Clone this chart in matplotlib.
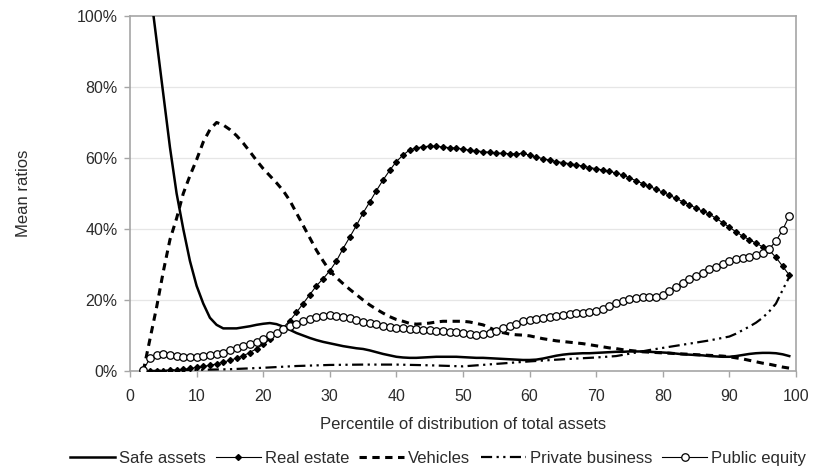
import matplotlib
matplotlib.use("Agg")
import matplotlib.pyplot as plt
from matplotlib.lines import Line2D

plt.rcParams['font.family'] = ['Liberation Sans', 'DejaVu Sans']

# Percentiles of the total-asset distribution
pct = list(range(2, 100))

safe_pct = list(range(3, 100))
safe_assets = [108, 93, 78, 63, 50, 40, 31, 24, 19, 15, 13, 12, 12, 12, 12.3, 12.6, 13, 13.3,
               13.5, 13.2, 12.5, 11.6, 10.7, 10, 9.3, 8.7, 8.2, 7.8, 7.4, 7.0, 6.7, 6.4, 6.2,
               5.8, 5.3, 4.8, 4.4, 4.0, 3.8, 3.7, 3.7, 3.8, 3.9, 4.0, 4.0, 4.0, 4.0, 3.9, 3.8,
               3.7, 3.7, 3.6, 3.5, 3.4, 3.3, 3.2, 3.1, 3.1, 3.2, 3.5, 3.9, 4.3, 4.6, 4.8, 4.9,
               5.0, 5.0, 5.1, 5.2, 5.3, 5.4, 5.4, 5.5, 5.5, 5.5, 5.4, 5.3, 5.2, 5.1, 4.9, 4.7,
               4.6, 4.5, 4.4, 4.2, 4.1, 4.0, 4.0, 4.2, 4.5, 4.8, 5.0, 5.1, 5.1, 5.0, 4.7, 4.2]

real_estate = [0, 0, 0, 0, 0.2, 0.3, 0.5, 0.7, 1, 1.3, 1.6, 2, 2.5, 3, 3.6, 4.3, 5.2, 6.3, 7.5,
               9, 10.5, 12.2, 14.2, 16.5, 19, 21.5, 24, 26, 28.2, 31, 34.5, 37.7, 41, 44.5, 47.6,
               50.8, 53.8, 56.5, 59, 60.8, 62.3, 62.8, 63.2, 63.3, 63.3, 63.1, 62.9, 62.8, 62.5,
               62.2, 62, 61.8, 61.6, 61.4, 61.3, 61.2, 61.2, 61.3, 60.8, 60.3, 59.8, 59.4, 59,
               58.7, 58.4, 58.1, 57.7, 57.3, 57, 56.6, 56.2, 55.8, 55.2, 54.4, 53.6, 52.8, 52,
               51.2, 50.4, 49.5, 48.6, 47.7, 46.8, 45.9, 45, 44.2, 43, 41.8, 40.5, 39.2, 38, 37,
               36, 35, 34, 32, 29.5, 27]

vehicles = [0, 9, 18, 28, 37, 43, 50, 55, 59.5, 64.5, 68, 70, 69.3, 68, 66.3, 64.2, 61.8, 59.3,
            57, 55, 53, 50.8, 48, 44.5, 41, 37.5, 34, 31, 28.2, 26.3, 24.6, 23, 21.5, 20, 18.6,
            17.4, 16.3, 15.3, 14.5, 14, 13.4, 13.2, 13.3, 13.5, 13.8, 14, 14, 14, 14, 13.8, 13.4,
            13, 12.2, 11.3, 10.8, 10.4, 10.2, 10.1, 9.9, 9.5, 9.1, 8.8, 8.5, 8.3, 8.1, 7.9, 7.7,
            7.4, 7.1, 6.8, 6.5, 6.3, 6.0, 5.8, 5.6, 5.4, 5.3, 5.2, 5.1, 5.0, 4.9, 4.8, 4.7, 4.6,
            4.5, 4.4, 4.3, 4.2, 4.0, 3.7, 3.4, 3.0, 2.6, 2.2, 1.9, 1.5, 1.1, 0.8]

biz_pct = [3, 5, 10, 15, 20, 25, 30, 35, 40, 45, 50, 55, 60, 65, 70, 73, 76, 78, 80, 83, 87,
           90, 91, 92, 93, 94, 95, 96, 97, 98, 99]
private_business = [0, 0.1, 0.3, 0.5, 0.9, 1.4, 1.7, 1.8, 1.8, 1.6, 1.3, 2.0, 2.7, 3.3, 3.8,
                    4.2, 5.2, 5.9, 6.5, 7.4, 8.6, 9.7, 10.5, 11.5, 12.5, 13.6, 15, 16.8, 19,
                    22.8, 26.5]

public_equity = [0.3, 3.6, 4.5, 4.8, 4.5, 4.2, 4.0, 4.0, 4.0, 4.2, 4.5, 4.8, 5.2, 5.8, 6.4, 7.0,
                 7.5, 8.2, 9.0, 10, 10.8, 11.7, 12.6, 13.3, 14, 14.7, 15.2, 15.6, 15.8, 15.6,
                 15.3, 14.8, 14.3, 13.9, 13.5, 13.1, 12.8, 12.5, 12.2, 12.0, 11.8, 11.7, 11.6,
                 11.5, 11.4, 11.2, 11.1, 11.0, 10.7, 10.4, 10.2, 10.4, 10.8, 11.4, 12.0, 12.6,
                 13.3, 14.0, 14.3, 14.6, 15.0, 15.3, 15.6, 15.8, 16.0, 16.2, 16.4, 16.6, 17.0,
                 17.6, 18.4, 19.1, 19.7, 20.2, 20.5, 20.7, 20.7, 20.8, 21.5, 22.6, 23.7, 24.8,
                 25.8, 26.8, 27.7, 28.6, 29.3, 30.2, 31.0, 31.5, 31.8, 32.1, 32.6, 33.2, 34.4,
                 36.6, 39.7, 43.7]

x_ticks = list(range(0, 101, 10))
y_ticks = [0, 20, 40, 60, 80, 100]
y_labels = [f"{v}%" for v in y_ticks]

fig = plt.figure(figsize=(8.14, 4.66), dpi=100)
ax = fig.add_axes([0.1597, 0.2039, 0.8181, 0.7618])

gray = '#a6a6a6'
text_col = '#2b2b2b'
for v in y_ticks[1:-1]:
    ax.axhline(v, color='#e6e6e6', lw=0.9, zorder=0)

re_style = dict(color='black', lw=0.8, marker='D', ms=3.0, mfc='black', mec='black')
pe_style = dict(color='black', lw=0.8, marker='o', ms=5.4, mfc='white', mec='black', mew=0.9)
veh_style = dict(color='black', lw=2.2, linestyle=(0, (2.4, 1.8)))
biz_style = dict(color='black', lw=1.6, linestyle=(0, (5, 2, 1, 2, 1, 2)))
safe_style = dict(color='black', lw=1.8)

ax.plot(safe_pct, safe_assets, zorder=3, **safe_style)
ax.plot(pct, real_estate, zorder=4, **re_style)
ax.plot(pct, vehicles, zorder=3, **veh_style)
ax.plot(biz_pct, private_business, zorder=3, **biz_style)
ax.plot(pct, public_equity, zorder=5, **pe_style)

ax.set_xlim(0, 100)
ax.set_ylim(0, 100)
ax.set_xticks(x_ticks)
ax.set_yticks(y_ticks)
ax.set_yticklabels(y_labels)
for sp in ax.spines.values():
    sp.set_color(gray)
    sp.set_linewidth(1.2)
ax.tick_params(axis='both', colors=gray, labelcolor=text_col, labelsize=11.5,
               length=4, width=1)
ax.tick_params(axis='x', pad=9)
ax.tick_params(axis='y', pad=5)

ax.set_xlabel('Percentile of distribution of total assets', fontsize=12,
              color=text_col, labelpad=9)
ax.set_ylabel('Mean ratios', fontsize=12, color=text_col, labelpad=33)

handles = [
    Line2D([], [], **safe_style),
    Line2D([], [], **re_style),
    Line2D([], [], **veh_style),
    Line2D([], [], **biz_style),
    Line2D([], [], **pe_style),
]
labels = ['Safe assets', 'Real estate', 'Vehicles', 'Private business', 'Public equity']
fig.legend(handles, labels, loc='center', bbox_to_anchor=(0.538, 0.017), ncol=5,
           frameon=False, fontsize=12, handlelength=2.7, handletextpad=0.25,
           columnspacing=0.6, labelcolor=text_col, borderpad=0)

fig.savefig('out.png', dpi=100, facecolor='white')
